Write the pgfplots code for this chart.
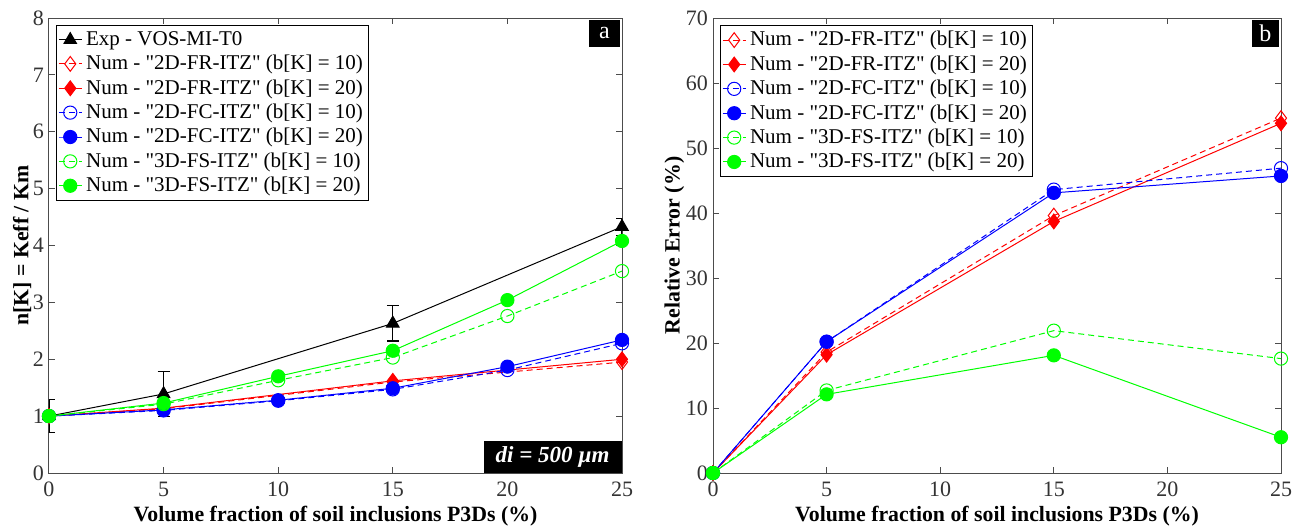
\documentclass[border=0pt]{standalone}
\usepackage{fontspec}
\setmainfont{Liberation Serif}
\usepackage{pgfplots}
\pgfplotsset{compat=1.18}
\newcommand{\q}{\textquotedbl}
\definecolor{axgray}{rgb}{0.3,0.3,0.3}
\definecolor{tickgray}{rgb}{0.2,0.2,0.2}
\pgfplotsset{
  mystyle/.style={
    scale only axis,
    height=227.5pt,
    xmin=0, xmax=25,
    xtick={0,5,10,15,20,25},
    tick align=inside,
    major tick length=3pt,
    /pgf/number format/assume math mode=true,
    axis line style={axgray, line width=0.5pt},
    every tick/.style={axgray, line width=0.5pt},
    tick label style={font=\fontsize{11}{12}\selectfont, text=tickgray},
    xticklabel style={yshift=-1pt},
    yticklabel style={xshift=1pt},
    label style={font=\fontsize{10.9}{12}\selectfont\bfseries},
    xlabel={Volume fraction of soil inclusions P3Ds (\%)},
    xlabel style={yshift=2pt},
    clip mode=individual,
    legend cell align=left,
    legend style={font=\fontsize{10.5}{12.4}\selectfont, draw=black, line width=0.5pt,
      inner sep=1pt, row sep=-0.6pt, anchor=north west},
    legend image code/.code={\draw[mark repeat=2,mark phase=2] plot coordinates {(0cm,0cm) (0.2cm,0cm) (0.4cm,0cm)};},
  },
  rd/.style={red, line width=0.5pt, dash pattern=on 3pt off 2pt, mark=diamond, mark size=3.7pt, mark options={solid, fill=white}},
  rs/.style={red, line width=0.5pt, mark=diamond*, mark size=3.7pt, mark options={solid, fill=red}},
  bd/.style={blue, line width=0.5pt, dash pattern=on 3pt off 2pt, mark=o, mark size=3.3pt, mark options={solid}},
  bs/.style={blue, line width=0.5pt, mark=*, mark size=3.3pt, mark options={solid, fill=blue}},
  gd/.style={green, line width=0.5pt, dash pattern=on 3pt off 2pt, mark=o, mark size=3.3pt, mark options={solid}},
  gs/.style={green, line width=0.5pt, mark=*, mark size=3.3pt, mark options={solid, fill=green}},
}
\begin{document}
\begin{tikzpicture}
\useasboundingbox (0,0) rectangle (650.5pt,263pt);
% ---------------- left (a) ----------------
\begin{axis}[mystyle,
  at={(24.5pt,26.5pt)}, anchor=south west,
  width=286.5pt,
  ymin=0, ymax=8, ytick={0,1,...,8},
  ylabel={n[K] = Keff / Km},
  ylabel style={yshift=-6pt},
  legend style={at={(0.012,0.985)}},
]
\addplot[black, line width=0.5pt, mark=triangle*, mark size=3.6pt, mark options={fill=black},
  error bars/.cd, y dir=both, y explicit, error bar style={black, line width=0.6pt},
  error mark options={rotate=90, mark size=3pt, black, line width=0.6pt}]
  coordinates {(0,1) +- (0,0.29) (5,1.39) +- (0,0.39) (15,2.63) +- (0,0.31) (25,4.33) +- (0,0.15)};
\addlegendentry{Exp - VOS-MI-T0}
\addplot[rd] coordinates {(0,1) (5,1.13) (15,1.60) (25,1.95)};
\addlegendentry{Num - \q2D-FR-ITZ\q{} (b[K] = 10)}
\addplot[rs] coordinates {(0,1) (5,1.14) (15,1.62) (25,2.00)};
\addlegendentry{Num - \q2D-FR-ITZ\q{} (b[K] = 20)}
\addplot[bd] coordinates {(0,1) (5,1.10) (10,1.27) (15,1.47) (20,1.81) (25,2.28)};
\addlegendentry{Num - \q2D-FC-ITZ\q{} (b[K] = 10)}
\addplot[bs] coordinates {(0,1) (5,1.11) (10,1.28) (15,1.49) (20,1.87) (25,2.34)};
\addlegendentry{Num - \q2D-FC-ITZ\q{} (b[K] = 20)}
\addplot[gd] coordinates {(0,1) (5,1.21) (10,1.63) (15,2.03) (20,2.76) (25,3.55)};
\addlegendentry{Num - \q3D-FS-ITZ\q{} (b[K] = 10)}
\addplot[gs] coordinates {(0,1) (5,1.23) (10,1.70) (15,2.15) (20,3.04) (25,4.08)};
\addlegendentry{Num - \q3D-FS-ITZ\q{} (b[K] = 20)}
\node[fill=black, text=white, anchor=north east, minimum width=15.5pt, minimum height=13.5pt, inner sep=0pt,
  font=\fontsize{12}{12}\selectfont] at (rel axis cs:0.997,0.997) {a};
\node[fill=black, text=white, anchor=south east, minimum width=69pt, minimum height=16pt, inner sep=0pt,
  font=\fontsize{11.5}{12}\selectfont\bfseries\itshape] at (rel axis cs:1,0) {di = 500 µm};
\end{axis}
% ---------------- right (b) ----------------
\begin{axis}[mystyle,
  at={(356.5pt,26.5pt)}, anchor=south west,
  width=284pt,
  ymin=0, ymax=70, ytick={0,10,...,70},
  ylabel={Relative Error (\%)},
  ylabel style={yshift=-6pt},
  legend style={at={(0.012,0.985)}},
]
\addplot[rd] coordinates {(0,0) (5,18.6) (15,39.6) (25,54.6)};
\addlegendentry{Num - \q2D-FR-ITZ\q{} (b[K] = 10)}
\addplot[rs] coordinates {(0,0) (5,18.2) (15,38.7) (25,53.8)};
\addlegendentry{Num - \q2D-FR-ITZ\q{} (b[K] = 20)}
\addplot[bd] coordinates {(0,0) (5,20.2) (15,43.6) (25,46.9)};
\addlegendentry{Num - \q2D-FC-ITZ\q{} (b[K] = 10)}
\addplot[bs] coordinates {(0,0) (5,20.2) (15,43.1) (25,45.7)};
\addlegendentry{Num - \q2D-FC-ITZ\q{} (b[K] = 20)}
\addplot[gd] coordinates {(0,0) (5,12.7) (15,21.9) (25,17.6)};
\addlegendentry{Num - \q3D-FS-ITZ\q{} (b[K] = 10)}
\addplot[gs] coordinates {(0,0) (5,12.1) (15,18.1) (25,5.5)};
\addlegendentry{Num - \q3D-FS-ITZ\q{} (b[K] = 20)}
\node[fill=black, text=white, anchor=north east, minimum width=13.5pt, minimum height=13.5pt, inner sep=0pt,
  font=\fontsize{12}{12}\selectfont] at (rel axis cs:0.997,0.997) {b};
\end{axis}
\end{tikzpicture}
\end{document}
